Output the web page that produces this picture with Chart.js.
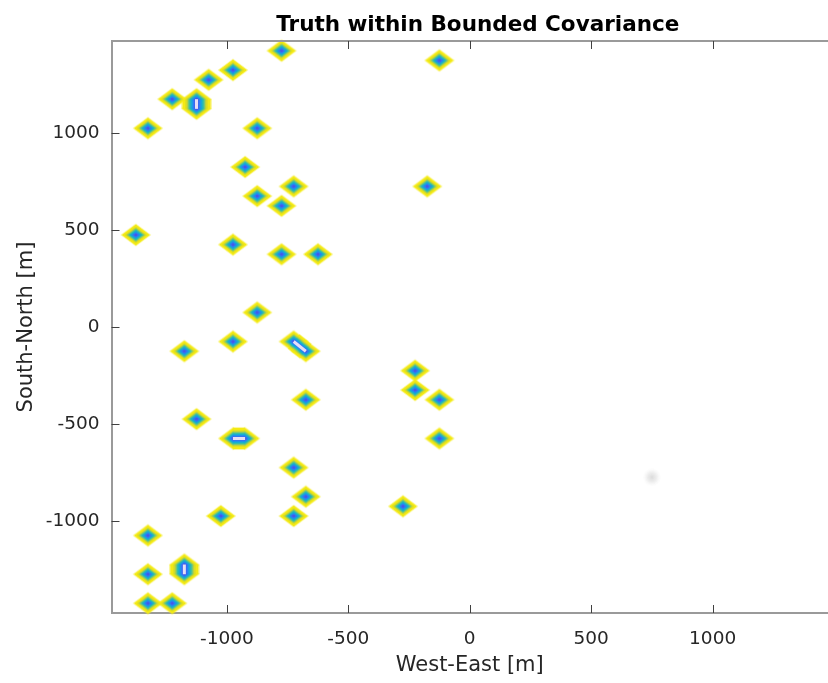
<!DOCTYPE html>
<html>
<head>
<meta charset="utf-8">
<title>Truth within Bounded Covariance</title>
<script src="https://cdn.jsdelivr.net/npm/chart.js@4.4.1/dist/chart.umd.min.js"></script>
<style>
  html, body { margin: 0; padding: 0; background: #fff; overflow: hidden; }
  canvas { display: block; }
</style>
</head>
<body>
<canvas id="chart" width="839" height="683"></canvas>
<script>
// truth positions [m]
const truthX = [-775, -125, -1075, -975, -1225, -1125, -1125, -1325, -875, -925,
                -725, -175, -875, -775, -1375, -975, -775, -625, -875, -975,
                -1175, -725, -675, -225, -225, -125, -675, -1125, -975, -925,
                -125, -725, -675, -275, -1025, -725, -1325, -1325, -1175, -1175,
                -1325, -1225];
const truthY = [1425, 1375, 1275, 1325, 1175, 1125, 1175, 1025, 1025, 825,
                725, 725, 675, 625, 475, 425, 375, 375, 75, -75,
                -125, -75, -125, -225, -325, -375, -375, -475, -575, -575,
                -575, -725, -875, -925, -975, -975, -1075, -1275, -1225, -1275,
                -1425, -1425];
// faint leftover blob
const ghostX = [750];
const ghostY = [-775];

const xTicks = [-1000, -500, 0, 500, 1000];
const yTicks = [-1000, -500, 0, 500, 1000];
const xRange = [-1475, 1475];
const yRange = [-1475, 1475];

const titleText = 'Truth within Bounded Covariance';
const font = 'DejaVu Sans';
const textColor = '#262626';

// contour rings, outside to inside
const rings = [
  [1.10, 'rgba(246,238,40,0.45)'],
  [1.00, '#f4ea14'],
  [0.82, '#e2e01e'],
  [0.70, '#b8d240'],
  [0.61, '#74c87a'],
  [0.52, '#34bea8'],
  [0.43, '#18b0d0'],
  [0.34, '#1c98e8'],
  [0.25, '#2f7cf4'],
  [0.16, '#4262ee'],
  [0.08, '#5248dc']
];
const halfW = 14, halfH = 10.5;

function diamond(ax, by, color) {
  const c = document.createElement('canvas');
  c.width = Math.ceil(ax) * 2 + 2;
  c.height = Math.ceil(by) * 2 + 2;
  const g = c.getContext('2d');
  const cx = c.width / 2, cy = c.height / 2;
  g.fillStyle = color;
  g.beginPath();
  g.moveTo(cx - ax, cy);
  g.lineTo(cx, cy - by);
  g.lineTo(cx + ax, cy);
  g.lineTo(cx, cy + by);
  g.closePath();
  g.fill();
  return c;
}

function blob(r) {
  const c = document.createElement('canvas');
  c.width = c.height = r * 2;
  const g = c.getContext('2d');
  const grad = g.createRadialGradient(r, r, 0, r, r, r);
  grad.addColorStop(0, 'rgba(215,215,215,0.9)');
  grad.addColorStop(0.5, 'rgba(225,225,225,0.6)');
  grad.addColorStop(1, 'rgba(235,235,235,0)');
  g.fillStyle = grad;
  g.fillRect(0, 0, r * 2, r * 2);
  return c;
}

const points = truthX.map((x, i) => ({ x: x, y: truthY[i] }));

// neighbouring truths merge into one elongated blob
const pairs = [];
for (let i = 0; i < points.length; i++) {
  for (let j = i + 1; j < points.length; j++) {
    if (Math.abs(points[i].x - points[j].x) <= 50 && Math.abs(points[i].y - points[j].y) <= 50) {
      pairs.push([points[i], points[j]]);
    }
  }
}

const datasets = [];
rings.forEach((ring, i) => {
  const ax = halfW * ring[0], by = halfH * ring[0];
  datasets.push({
    data: points,
    pointStyle: diamond(ax, by, ring[1]),
    pointRadius: 10,
    clip: false,
    order: 100 - i
  });
  pairs.forEach(p => {
    datasets.push({
      data: p,
      showLine: true,
      borderColor: ring[1],
      borderCapStyle: 'butt',
      borderWidth: c => {
        const s = c.chart.scales;
        const dx = s.x.getPixelForValue(p[1].x) - s.x.getPixelForValue(p[0].x);
        const dy = s.y.getPixelForValue(p[1].y) - s.y.getPixelForValue(p[0].y);
        const len = Math.hypot(dx, dy);
        return 2 * Math.max(ax * Math.abs(dy) / len, by * Math.abs(dx) / len);
      },
      pointRadius: 0,
      clip: false,
      order: 100 - i
    });
  });
});

// bright ridge along each merged pair
pairs.forEach(p => {
  datasets.push({
    data: p,
    showLine: true,
    borderColor: '#e6def6',
    borderWidth: 3,
    borderCapStyle: 'butt',
    pointRadius: 0,
    clip: false,
    order: 1
  });
});

datasets.push({
  data: ghostX.map((x, i) => ({ x: x, y: ghostY[i] })),
  pointStyle: blob(9),
  pointRadius: 9,
  order: 200
});

const framePlugin = {
  id: 'frame',
  afterDraw(chart) {
    const { ctx, chartArea: a, scales: { x, y } } = chart;
    ctx.save();
    ctx.strokeStyle = '#9a9a9a';
    ctx.lineWidth = 2;
    ctx.beginPath();
    ctx.moveTo(a.left, a.top);
    ctx.lineTo(a.right, a.top);
    ctx.stroke();

    ctx.strokeStyle = '#404040';
    ctx.lineWidth = 1;
    ctx.beginPath();
    x.ticks.forEach(t => {
      const px = Math.round(x.getPixelForValue(t.value)) + 0.5;
      ctx.moveTo(px, a.bottom);
      ctx.lineTo(px, a.bottom - 8);
      ctx.moveTo(px, a.top);
      ctx.lineTo(px, a.top + 8);
    });
    y.ticks.forEach(t => {
      const py = Math.round(y.getPixelForValue(t.value)) + 0.5;
      ctx.moveTo(a.left, py);
      ctx.lineTo(a.left + 8, py);
    });
    ctx.stroke();

    ctx.fillStyle = '#000';
    ctx.font = 'bold 21.5px "' + font + '"';
    ctx.textAlign = 'center';
    ctx.textBaseline = 'alphabetic';
    ctx.fillText(titleText, (a.left + a.right) / 2 + 8, 31);
    ctx.restore();
  }
};

new Chart(document.getElementById('chart'), {
  type: 'scatter',
  data: { datasets: datasets },
  options: {
    responsive: false,
    animation: false,
    events: [],
    layout: { padding: { top: 41, right: 0, bottom: 0, left: 0 } },
    plugins: {
      legend: { display: false },
      tooltip: { enabled: false },
      title: { display: false }
    },
    scales: {
      x: {
        type: 'linear',
        position: 'bottom',
        min: xRange[0],
        max: xRange[1],
        afterBuildTicks: s => { s.ticks = xTicks.map(v => ({ value: v })); },
        afterFit: s => { s.height = 70; },
        grid: { display: false, drawTicks: false },
        border: { display: true, color: '#9a9a9a', width: 2 },
        ticks: {
          color: textColor,
          font: { family: font, size: 18.5 },
          padding: 15,
          maxRotation: 0,
          autoSkip: false,
          callback: v => String(v)
        },
        title: {
          display: true,
          text: 'West-East [m]',
          color: textColor,
          font: { family: font, size: 21 },
          padding: { top: 0, bottom: 5 }
        }
      },
      y: {
        type: 'linear',
        position: 'left',
        min: yRange[0],
        max: yRange[1],
        afterBuildTicks: s => { s.ticks = yTicks.map(v => ({ value: v })); },
        afterFit: s => { s.width = 111.5; },
        grid: { display: false, drawTicks: false },
        border: { display: true, color: '#9a9a9a', width: 2 },
        ticks: {
          color: textColor,
          font: { family: font, size: 18.5 },
          padding: 12,
          autoSkip: false,
          callback: v => String(v)
        },
        title: {
          display: true,
          text: 'South-North [m]',
          color: textColor,
          font: { family: font, size: 21 },
          padding: { top: 14, bottom: 0 }
        }
      }
    }
  },
  plugins: [framePlugin]
});
</script>
</body>
</html>
